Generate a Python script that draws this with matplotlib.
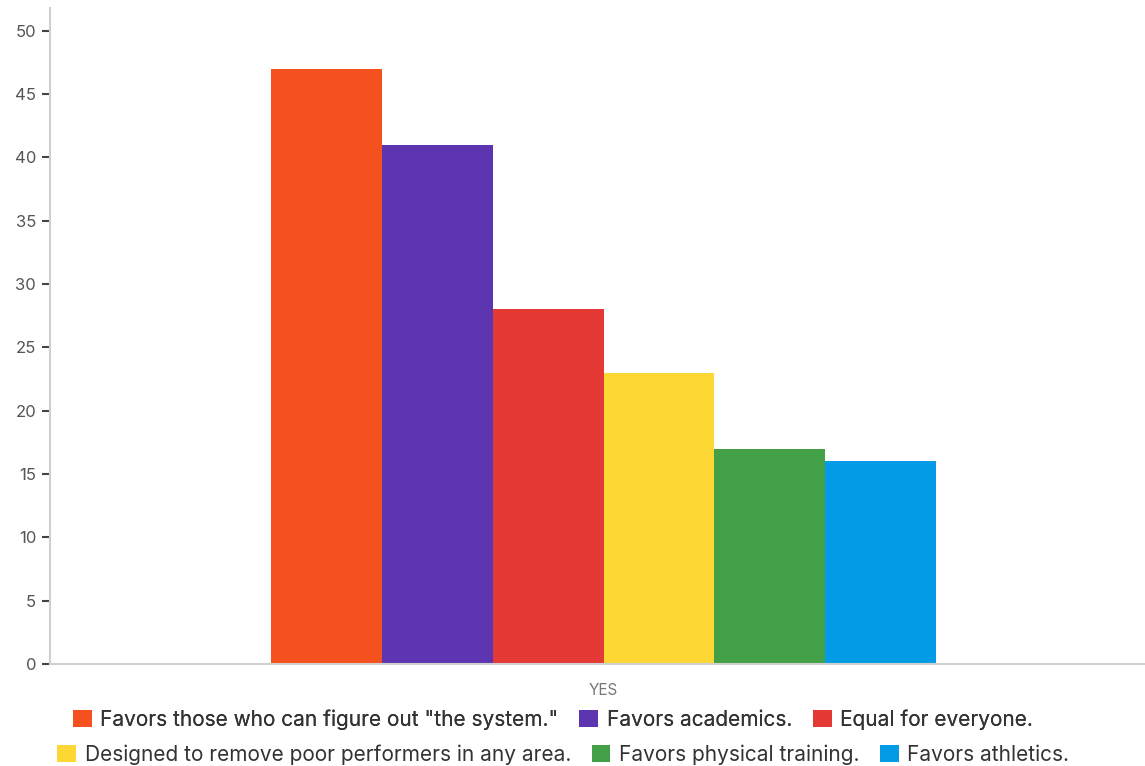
import numpy as np
import matplotlib.pyplot as plt
from matplotlib.patches import Patch

plt.rcParams['font.family'] = ['Inter', 'DejaVu Sans']

labels = ['Favors those who can figure out "the system."', 'Favors academics.',
          'Equal for everyone.', 'Designed to remove poor performers in any area.',
          'Favors physical training.', 'Favors athletics.']
values = [47, 41, 28, 23, 17, 16]
colors = ['#F4511E', '#5E35B1', '#E53935', '#FDD835', '#43A047', '#039BE5']
category = 'YES'

fig = plt.figure(figsize=(11.45, 7.66), dpi=100)
ax = fig.add_axes([0.0437, 0.1332, 0.9563, 0.8564])

x = np.arange(len(values)) - 2.5
ax.bar(x, values, width=1.0, color=colors)

ax.set_xlim(-5.0, 4.89)
ax.set_ylim(0, 51.8)
ax.set_yticks(np.arange(0, 51, 5))
ax.set_xticks([0])
ax.set_xticklabels([category])

for s in ['top', 'right']:
    ax.spines[s].set_visible(False)
for s in ['left', 'bottom']:
    ax.spines[s].set_color('#d0d0d0')
    ax.spines[s].set_linewidth(1.5)
ax.tick_params(axis='y', length=6, width=1.5, color='#444444', labelcolor='#555555',
               labelsize=12, pad=4)
ax.tick_params(axis='x', length=0, labelcolor='#777777', labelsize=11, pad=14)

handles = [Patch(facecolor=c) for c in colors]
leg1 = fig.legend(handles[:3], labels[:3], loc='center', bbox_to_anchor=(0.483, 0.061),
                  ncol=3, frameon=False, fontsize=15, handlelength=0.9, handleheight=0.9,
                  handletextpad=0.4, columnspacing=1.0, labelcolor='#333333')
fig.add_artist(leg1)
fig.legend(handles[3:], labels[3:], loc='center', bbox_to_anchor=(0.492, 0.015),
           ncol=3, frameon=False, fontsize=15, handlelength=0.9, handleheight=0.9,
           handletextpad=0.4, columnspacing=1.0, labelcolor='#333333')

fig.savefig('out.png', dpi=100)
